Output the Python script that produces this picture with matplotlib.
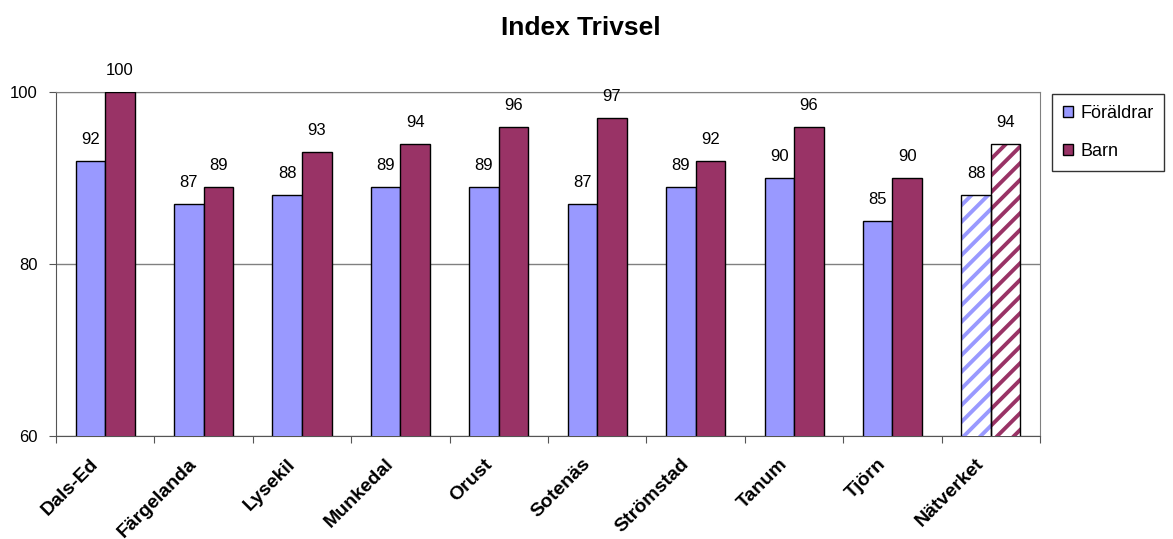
import matplotlib.pyplot as plt
import matplotlib.transforms as mtransforms
import numpy as np

plt.rcParams['font.family'] = ['Liberation Sans', 'DejaVu Sans']

kommuner = ['Dals-Ed', 'Färgelanda', 'Lysekil', 'Munkedal', 'Orust',
            'Sotenäs', 'Strömstad', 'Tanum', 'Tjörn', 'Nätverket']
foraldrar = [92, 87, 88, 89, 89, 87, 89, 90, 85, 88]
barn = [100, 89, 93, 94, 96, 97, 92, 96, 90, 94]

blue = '#9999ff'
red = '#993366'

fig = plt.figure(figsize=(11.73, 5.39), dpi=100)
ax = fig.add_axes([0.0477, 0.191, 0.839, 0.638])

x = np.arange(len(kommuner))
w = 0.3
n = len(kommuner) - 1

ax.bar(x[:n] - w / 2, foraldrar[:n], w, color=blue, edgecolor='black', linewidth=1, label='Föräldrar', zorder=3)
ax.bar(x[:n] + w / 2, barn[:n], w, color=red, edgecolor='black', linewidth=1, label='Barn', zorder=3)

# Nätverket: striped bars
plt.rcParams['hatch.linewidth'] = 2.8
ax.bar(x[n] - w / 2, foraldrar[n], w, color='white', edgecolor=blue, hatch='//', linewidth=0, zorder=3)
ax.bar(x[n] + w / 2, barn[n], w, color='white', edgecolor=red, hatch='//', linewidth=0, zorder=3)
ax.bar(x[n] - w / 2, foraldrar[n], w, fill=False, edgecolor='black', linewidth=1, zorder=4)
ax.bar(x[n] + w / 2, barn[n], w, fill=False, edgecolor='black', linewidth=1, zorder=4)

for i in range(len(kommuner)):
    ax.annotate(str(foraldrar[i]), (x[i] - w / 2, foraldrar[i]), xytext=(0, 10),
                textcoords='offset points', ha='center', va='bottom', fontsize=12)
    ax.annotate(str(barn[i]), (x[i] + w / 2, barn[i]), xytext=(0, 10),
                textcoords='offset points', ha='center', va='bottom', fontsize=12)

ax.set_ylim(60, 100)
ax.set_xlim(-0.5, len(kommuner) - 0.5)
ax.set_yticks([60, 80, 100])
ax.tick_params(axis='y', labelsize=12, length=5, pad=8, direction='out', color='#555555')
ax.yaxis.grid(True, color='#808080', linewidth=1, zorder=0)

ax.set_xticks(np.arange(len(kommuner) + 1) - 0.5)
ax.set_xticklabels([])
ax.tick_params(axis='x', length=5, color='#555555')
ax.set_xticks(x, minor=True)
ax.set_xticklabels(kommuner, minor=True, rotation=45, ha='right', rotation_mode='anchor',
                   fontsize=14, fontweight='bold')
ax.tick_params(axis='x', which='minor', length=0, pad=14)
shift = mtransforms.ScaledTranslation(-11 / 72, 0, fig.dpi_scale_trans)
for lbl in ax.get_xticklabels(minor=True):
    lbl.set_transform(lbl.get_transform() + shift)

for s in ['top', 'right']:
    ax.spines[s].set_color('#808080')
ax.spines['left'].set_color('#555555')
ax.spines['bottom'].set_color('#555555')

fig.suptitle('Index Trivsel', fontsize=19, fontweight='bold', x=0.495, y=0.97)

leg = fig.legend(loc='upper left', bbox_to_anchor=(0.897, 0.826), fontsize=13,
                 frameon=True, fancybox=False, edgecolor='black', handlelength=0.55,
                 handleheight=0.55, labelspacing=1.2, borderpad=0.6, handletextpad=0.4,
                 borderaxespad=0)
leg.get_frame().set_linewidth(1)

fig.savefig('out.png', dpi=100)
